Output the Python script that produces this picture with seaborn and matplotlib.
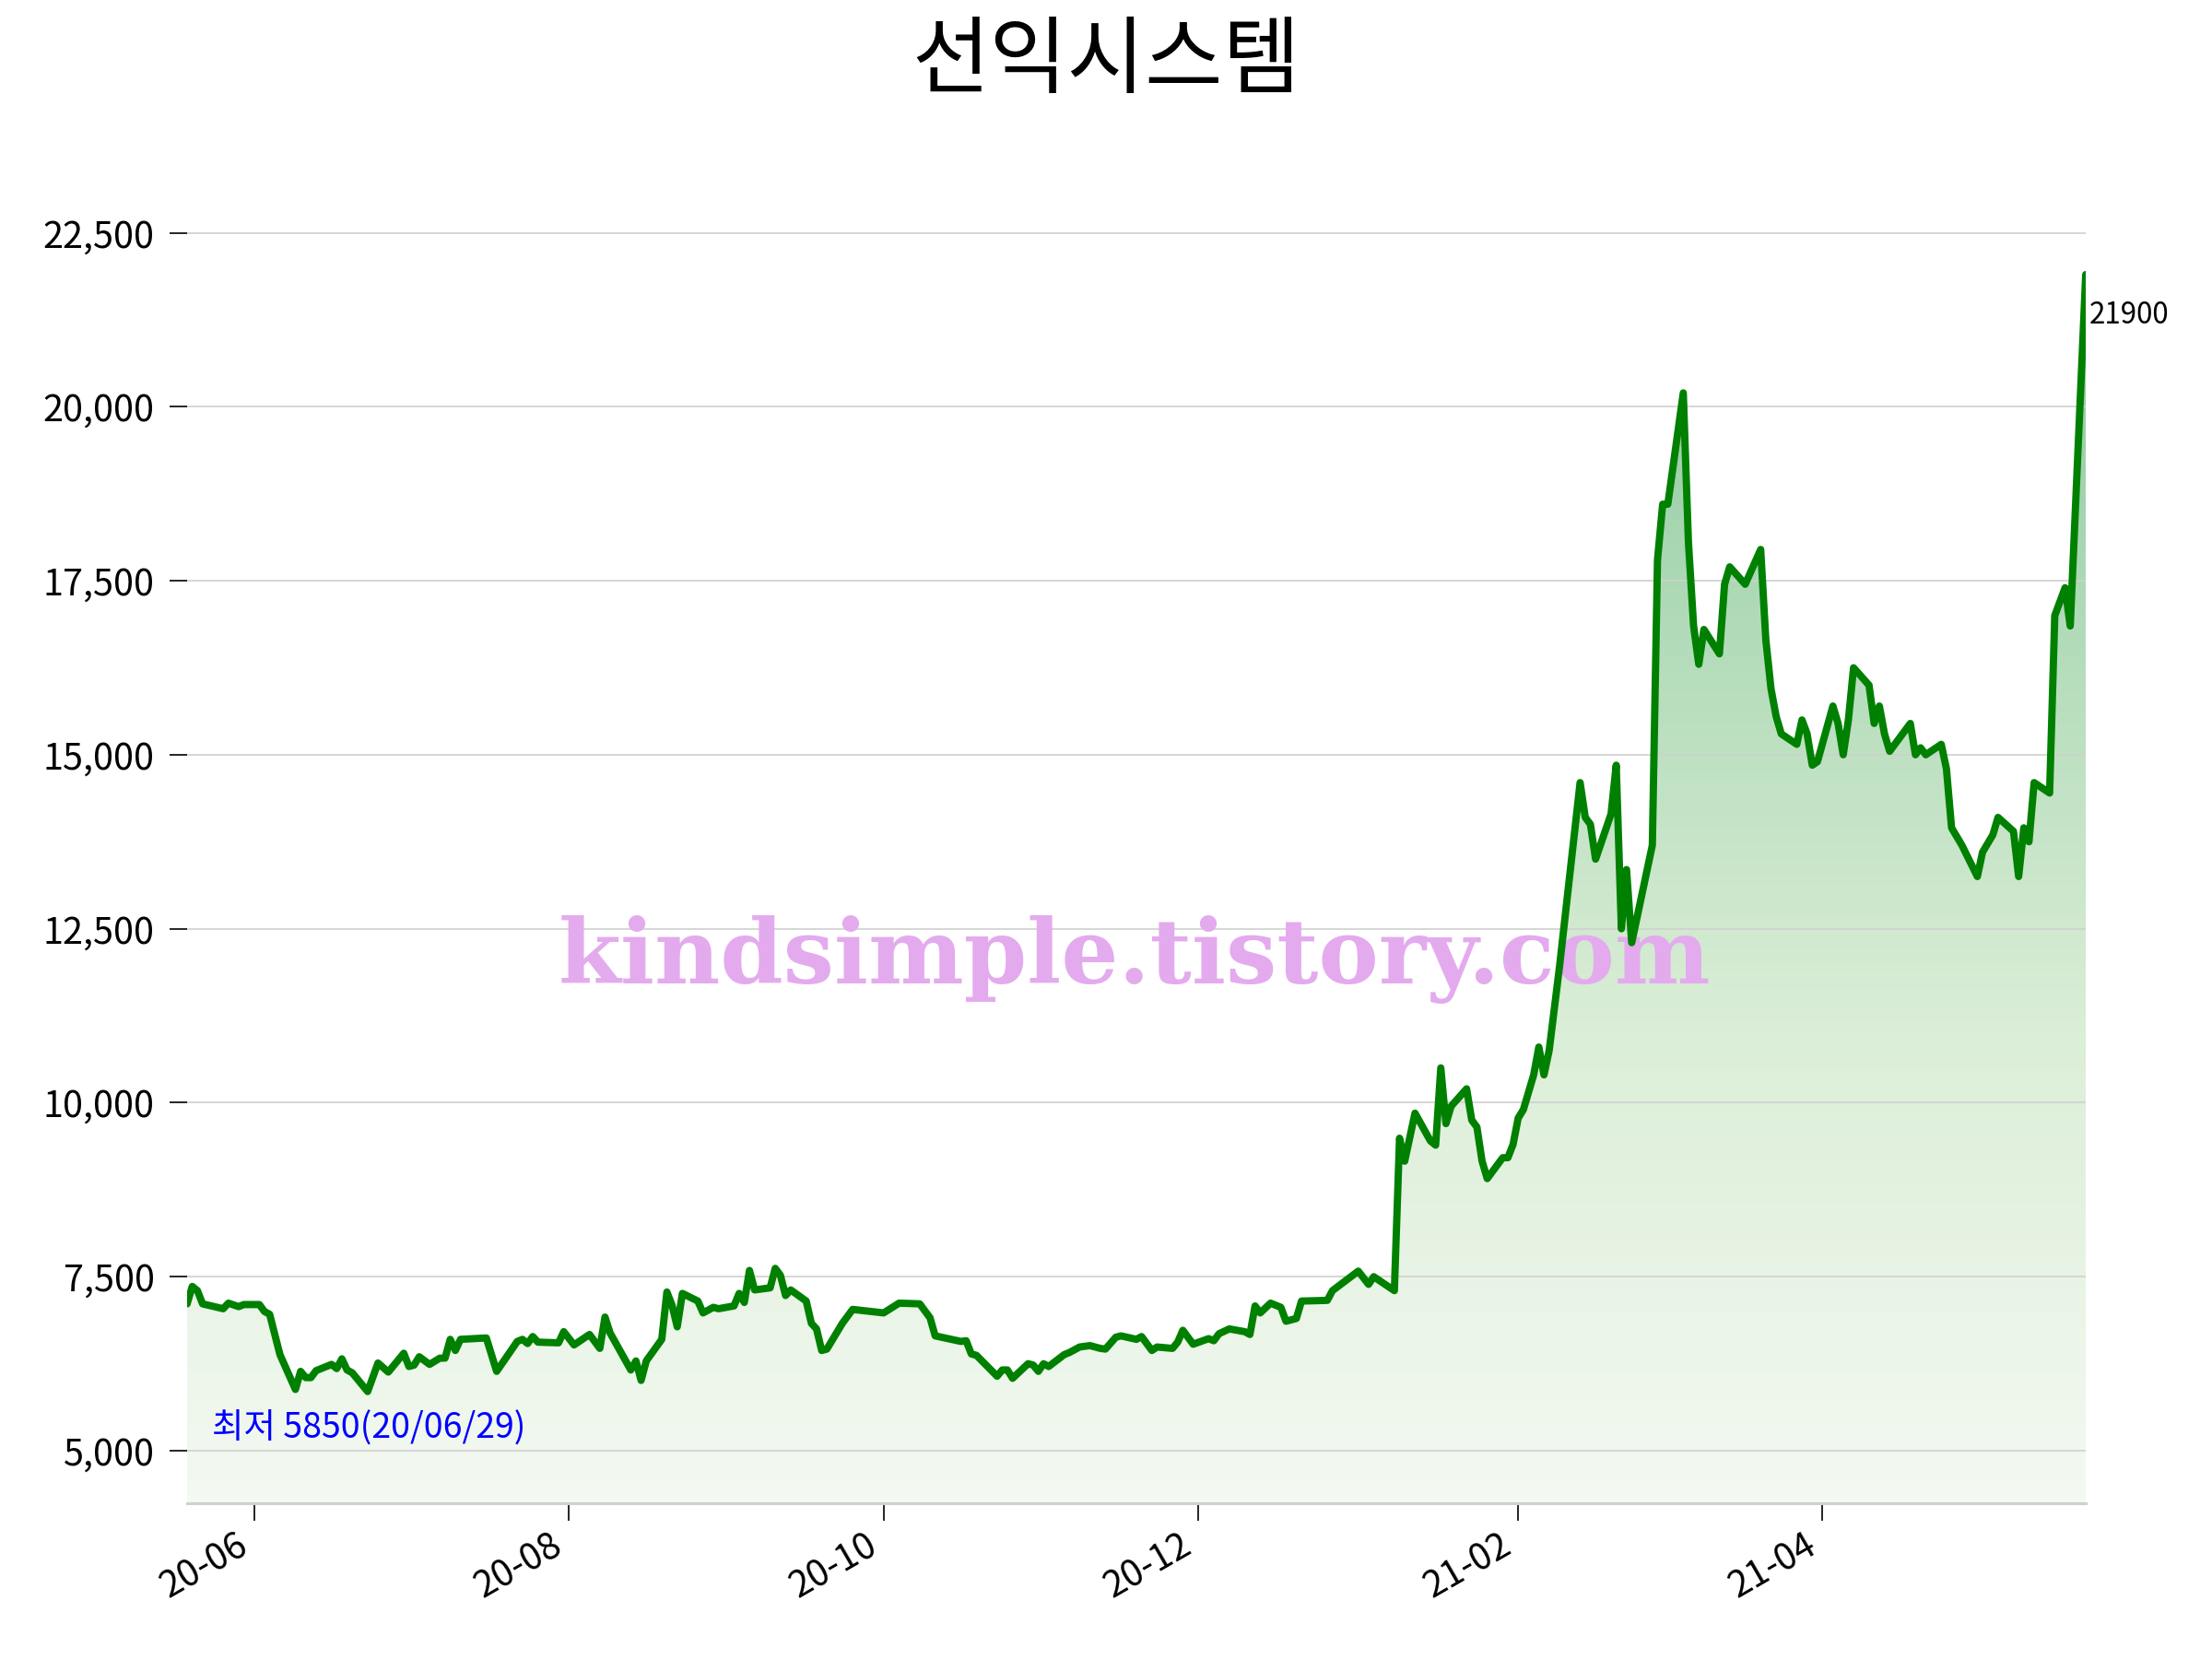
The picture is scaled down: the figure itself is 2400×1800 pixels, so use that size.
import numpy as np
import pandas as pd
import matplotlib
matplotlib.use("Agg")
import matplotlib.pyplot as plt
import matplotlib.dates as mdates
import matplotlib.ticker as mticker
from matplotlib.colors import LinearSegmentedColormap
from matplotlib.patches import Polygon
import seaborn as sns

title = "선익시스템"
low_label = "최저 5850(20/06/29)"
last_label = "21900"
watermark = "kindsimple.tistory.com"

dates = [
    "2020-05-19", "2020-05-20", "2020-05-21", "2020-05-22", "2020-05-26", "2020-05-27", "2020-05-29", "2020-05-30",
    "2020-06-02", "2020-06-03", "2020-06-04", "2020-06-06", "2020-06-09", "2020-06-10", "2020-06-11", "2020-06-12",
    "2020-06-13", "2020-06-16", "2020-06-17", "2020-06-18", "2020-06-19", "2020-06-20", "2020-06-23", "2020-06-25",
    "2020-06-27", "2020-06-30", "2020-07-01", "2020-07-02", "2020-07-03", "2020-07-05", "2020-07-07", "2020-07-08",
    "2020-07-09", "2020-07-10", "2020-07-11", "2020-07-16", "2020-07-18", "2020-07-22", "2020-07-23", "2020-07-24",
    "2020-07-25", "2020-07-26", "2020-07-30", "2020-07-31", "2020-08-02", "2020-08-05", "2020-08-07", "2020-08-08",
    "2020-08-09", "2020-08-13", "2020-08-14", "2020-08-15", "2020-08-16", "2020-08-19", "2020-08-20", "2020-08-21",
    "2020-08-22", "2020-08-23", "2020-08-26", "2020-08-27", "2020-08-29", "2020-08-30", "2020-09-02", "2020-09-03",
    "2020-09-04", "2020-09-05", "2020-09-06", "2020-09-09", "2020-09-10", "2020-09-11", "2020-09-12", "2020-09-13",
    "2020-09-16", "2020-09-17", "2020-09-18", "2020-09-19", "2020-09-20", "2020-09-23", "2020-09-25", "2020-10-01",
    "2020-10-04", "2020-10-08", "2020-10-10", "2020-10-11", "2020-10-16", "2020-10-17", "2020-10-18", "2020-10-19",
    "2020-10-23", "2020-10-24", "2020-10-25", "2020-10-26", "2020-10-29", "2020-10-30", "2020-10-31", "2020-11-01",
    "2020-11-02", "2020-11-05", "2020-11-06", "2020-11-08", "2020-11-10", "2020-11-12", "2020-11-13", "2020-11-15",
    "2020-11-16", "2020-11-19", "2020-11-20", "2020-11-22", "2020-11-23", "2020-11-26", "2020-11-27", "2020-11-28",
    "2020-11-30", "2020-12-03", "2020-12-04", "2020-12-05", "2020-12-07", "2020-12-10", "2020-12-11", "2020-12-12",
    "2020-12-13", "2020-12-15", "2020-12-17", "2020-12-18", "2020-12-20", "2020-12-21", "2020-12-26", "2020-12-27",
    "2021-01-01", "2021-01-03", "2021-01-04", "2021-01-08", "2021-01-09", "2021-01-10", "2021-01-12", "2021-01-15",
    "2021-01-16", "2021-01-17", "2021-01-18", "2021-01-19", "2021-01-22", "2021-01-23", "2021-01-24", "2021-01-25",
    "2021-01-26", "2021-01-29", "2021-01-30", "2021-01-31", "2021-02-01", "2021-02-02", "2021-02-04", "2021-02-05",
    "2021-02-06", "2021-02-07", "2021-02-09", "2021-02-13", "2021-02-14", "2021-02-15", "2021-02-16", "2021-02-19",
    "2021-02-20", "2021-02-21", "2021-02-22", "2021-02-23", "2021-02-27", "2021-02-28", "2021-03-01", "2021-03-02",
    "2021-03-05", "2021-03-06", "2021-03-07", "2021-03-08", "2021-03-09", "2021-03-12", "2021-03-13", "2021-03-14",
    "2021-03-17", "2021-03-20", "2021-03-21", "2021-03-22", "2021-03-23", "2021-03-24", "2021-03-27", "2021-03-28",
    "2021-03-29", "2021-03-30", "2021-03-31", "2021-04-03", "2021-04-04", "2021-04-05", "2021-04-06", "2021-04-07",
    "2021-04-10", "2021-04-11", "2021-04-12", "2021-04-13", "2021-04-14", "2021-04-16", "2021-04-18", "2021-04-19",
    "2021-04-20", "2021-04-21", "2021-04-24", "2021-04-25", "2021-04-26", "2021-04-28", "2021-05-01", "2021-05-02",
    "2021-05-04", "2021-05-05", "2021-05-08", "2021-05-09", "2021-05-10", "2021-05-11", "2021-05-12", "2021-05-14",
    "2021-05-15", "2021-05-16", "2021-05-18", "2021-05-19", "2021-05-22",
]

prices = [
    7110, 7360, 7300, 7110, 7040, 7120, 7070, 7100,
    7100, 7000, 6960, 6380, 5880, 6140, 6050, 6050,
    6150, 6240, 6180, 6320, 6160, 6120, 5850, 6260,
    6130, 6400, 6210, 6230, 6350, 6240, 6330, 6330,
    6600, 6440, 6600, 6620, 6140, 6570, 6600, 6540,
    6640, 6560, 6550, 6710, 6520, 6670, 6470, 6920,
    6690, 6160, 6290, 6010, 6290, 6600, 7280, 7090,
    6780, 7260, 7150, 6980, 7060, 7040, 7080, 7260,
    7130, 7590, 7310, 7340, 7620, 7520, 7230, 7310,
    7150, 6830, 6750, 6440, 6460, 6830, 7030, 6980,
    7120, 7110, 6910, 6650, 6570, 6580, 6390, 6370,
    6070, 6160, 6160, 6040, 6250, 6230, 6140, 6250,
    6210, 6380, 6410, 6490, 6510, 6470, 6460, 6630,
    6650, 6600, 6640, 6440, 6490, 6470, 6560, 6730,
    6530, 6610, 6580, 6680, 6750, 6710, 6670, 7080,
    6980, 7120, 7060, 6860, 6900, 7150, 7160, 7300,
    7580, 7390, 7500, 7300, 9490, 9160, 9850, 9450,
    9390, 10500, 9700, 9950, 10200, 9750, 9650, 9160,
    8910, 9210, 9210, 9400, 9780, 9900, 10400, 10800,
    10400, 10750, 11950, 14600, 14100, 14000, 13500, 14150,
    14850, 12500, 13350, 12300, 13700, 17800, 18600, 18600,
    20200, 18050, 16850, 16300, 16800, 16450, 17450, 17700,
    17450, 17950, 16650, 15950, 15550, 15300, 15150, 15500,
    15300, 14850, 14900, 15700, 15450, 15000, 15500, 16250,
    16000, 15450, 15700, 15300, 15050, 15250, 15450, 15000,
    15100, 15000, 15150, 14800, 13950, 13700, 13250, 13600,
    13850, 14100, 13900, 13250, 13950, 13750, 14600, 14500,
    14450, 17000, 17400, 16850, 21900,
]

y_ticks = [5000, 7500, 10000, 12500, 15000, 17500, 20000, 22500]

sns.set_theme(style="white")
plt.rcParams["font.family"] = ["Noto Sans CJK KR", "DejaVu Sans"]
plt.rcParams["axes.unicode_minus"] = False

df = pd.DataFrame({"date": pd.to_datetime(dates), "price": prices})

fig = plt.figure(figsize=(16, 12), dpi=150)
ax = fig.add_axes([0.08458, 0.09389, 0.85833, 0.80794])

sns.lineplot(data=df, x="date", y="price", color="#008000", linewidth=3.8,
             ax=ax, zorder=4)

pmin, pmax = df["price"].min(), df["price"].max()
span = pmax - pmin
ylo, yhi = pmin - 0.1 * span, pmax + 0.1 * span
x0 = mdates.date2num(df["date"].iloc[0])
x1 = mdates.date2num(df["date"].iloc[-1])

# gradient fill under the line
cmap = LinearSegmentedColormap.from_list(
    "fillg", [(0.0, "#f4f9f2"), (0.35, "#dbeed7"), (0.7, "#abd8b4"), (1.0, "#7fbf95")])
grad = np.linspace(0, 1, 256).reshape(-1, 1)
im = ax.imshow(grad, extent=[x0, x1, ylo, yhi], origin="lower", aspect="auto",
               cmap=cmap, zorder=0.2, interpolation="bilinear")
xs = mdates.date2num(df["date"])
verts = [(x0, ylo)] + list(zip(xs, df["price"])) + [(x1, ylo)]
poly = Polygon(verts, closed=True, facecolor="none", edgecolor="none")
ax.add_patch(poly)
im.set_clip_path(poly)

ax.set_xlim(x0, x1)
ax.set_ylim(ylo, yhi)

ax.set_yticks(y_ticks)
ax.yaxis.set_major_formatter(mticker.FuncFormatter(lambda v, p: f"{v:,.0f}"))
ax.xaxis.set_major_locator(mdates.MonthLocator(bymonth=[2, 4, 6, 8, 10, 12]))
ax.xaxis.set_major_formatter(mdates.DateFormatter("%y-%m"))

ax.set_xlabel("")
ax.set_ylabel("")
ax.set_axisbelow(True)
ax.yaxis.grid(True, color="#d0d0d0", linewidth=0.8)
ax.xaxis.grid(False)
for s in ["left", "top", "right"]:
    ax.spines[s].set_visible(False)
ax.spines["bottom"].set_color("#d0d0d0")
ax.spines["bottom"].set_linewidth(1.5)

ax.tick_params(axis="both", which="major", labelsize=19, length=9, width=0.8,
               color="black", labelcolor="black", bottom=True, left=True)
ax.tick_params(axis="y", pad=8)
plt.setp(ax.get_xticklabels(), rotation=30, ha="right")

fig.text(0.5, 0.962, title, ha="center", va="center", fontsize=44, color="black")

ax.text(0.513, 0.4217, watermark, transform=fig.transFigure, ha="center", va="center",
        fontsize=47, fontweight="heavy", family="DejaVu Serif", color="#e4aaee", zorder=3)

fig.text(0.0958, 0.1386, low_label, ha="left", va="center", fontsize=18, color="blue")

ax.annotate(last_label, xy=(df["date"].iloc[-1], df["price"].iloc[-1]), xytext=(2, -21),
            textcoords="offset points", ha="left", va="center", fontsize=15,
            color="black", annotation_clip=False)

fig.savefig("out.png", dpi=150)
